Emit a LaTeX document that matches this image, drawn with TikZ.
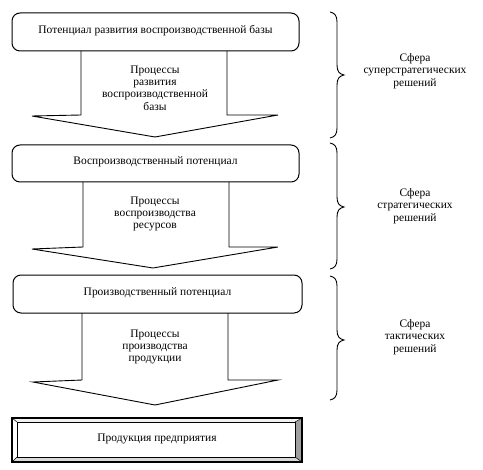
\documentclass[tikz,border=0pt]{standalone}
\usepackage{fontspec}
\setmainfont{Liberation Serif}
\begin{document}
\begin{tikzpicture}[x=1bp,y=-1bp,
  box/.style={draw,line width=1bp,rounded corners=8bp,fill=white},
  arrowshape/.style={draw,line width=0.9bp,fill=white,line join=miter},
  lbl/.style={font=\fontsize{11.5}{12.5}\selectfont,align=center,inner sep=0pt},
  brc/.style={draw,line width=0.9bp}]
\useasboundingbox (0,0) rectangle (483,470);
% arrows
\draw[arrowshape] (81,51) -- (81,115) -- (32,116) -- (155,137) -- (278,115) -- (227,115) -- (227,51);
\draw[arrowshape] (83,182) -- (83,247) -- (32,249) -- (153,268) -- (278,247) -- (229,247) -- (229,182);
\draw[arrowshape] (82,313) -- (82,380) -- (33,382) -- (155,405) -- (278,380) -- (228,380) -- (228,313);
% boxes
\draw[box] (12,13) rectangle (299,51);
\node[lbl] (b1) at (155.5,31) {Потенциал развития воспроизводственной базы};
\draw[box] (12,145) rectangle (299,182);
\node[lbl] (b2) at (155.5,162) {Воспроизводственный потенциал};
\draw[box] (13,275) rectangle (302,313);
\node[lbl] (b3) at (157.5,293) {Производственный потенциал};
% arrow labels
\node[lbl] (p1) at (155,88) {Процессы\\развития\\воспроизводственной\\базы};
\node[lbl] (p2) at (155,214) {Процессы\\воспроизводства\\ресурсов};
\node[lbl] (p3) at (155,347) {Процессы\\производства\\продукции};
% bevel box
\fill[white] (12,418) rectangle (302,462);
\fill[gray!75] (302,418) -- (295,422) -- (295,457) -- (302,462) -- cycle;
\fill[gray!30] (12,462) -- (17,457) -- (295,457) -- (302,462) -- cycle;
\fill[gray!10] (12,418) -- (17,422) -- (295,422) -- (302,418) -- cycle;
\draw[line width=1.2bp] (12,418) rectangle (302,462);
\draw[line width=0.9bp] (17,422) rectangle (295,457);
\draw[line width=0.5bp] (12,418) -- (17,422) (302,418) -- (295,422) (12,462) -- (17,457) (302,462) -- (295,457);
\node[lbl] (b4) at (157,439) {Продукция предприятия};
% braces
\draw[brc] (330,12) .. controls (335,13) and (337,16) .. (337,22) -- (337,65) .. controls (337,71) and (339,74) .. (344,75) .. controls (339,76) and (337,79) .. (337,85) -- (337,128) .. controls (337,134) and (335,137) .. (330,138);
\draw[brc] (330,143) .. controls (335,144) and (337,147) .. (337,153) -- (337,197) .. controls (337,203) and (339,206) .. (344,207) .. controls (339,208) and (337,211) .. (337,217) -- (337,259) .. controls (337,265) and (335,268) .. (330,269);
\draw[brc] (330,276) .. controls (335,277) and (337,280) .. (337,286) -- (337,330) .. controls (337,336) and (339,339) .. (344,340) .. controls (339,341) and (337,344) .. (337,350) -- (337,390) .. controls (337,396) and (335,399) .. (330,400);
\node[lbl] (s1) at (415,71) {Сфера\\суперстратегических\\решений};
\node[lbl] (s2) at (415,206) {Сфера\\стратегических\\решений};
\node[lbl] (s3) at (415,337) {Сфера\\тактических\\решений};
\end{tikzpicture}
\end{document}
